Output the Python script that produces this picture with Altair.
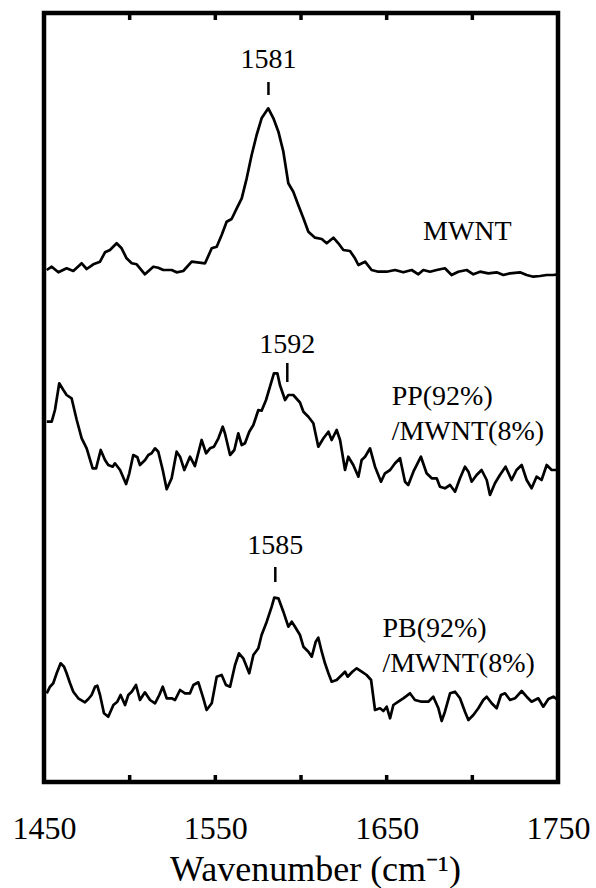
import altair as alt
import pandas as pd

# Raman spectra, offset vertically (intensity in arbitrary units)
mwnt_w = [1451.6, 1454.5, 1458.4, 1463.2, 1467.1, 1472.0, 1474.9, 1478.8, 1482.7, 1485.6,
          1488.5, 1492.4, 1495.3, 1498.2, 1501.2, 1504.1, 1508.9, 1513.8, 1516.7, 1519.6,
          1524.5, 1527.4, 1531.3, 1536.2, 1544.0, 1547.9, 1550.8, 1553.7, 1556.6, 1559.5,
          1562.5, 1565.4, 1568.3, 1571.2, 1574.1, 1577.0, 1580.9, 1583.9, 1586.8, 1589.7,
          1592.6, 1595.5, 1598.4, 1601.4, 1604.3, 1608.2, 1612.1, 1615.0, 1618.9, 1621.8,
          1624.7, 1628.6, 1631.5, 1633.5, 1637.4, 1641.2, 1645.1, 1650.0, 1654.9, 1659.7,
          1664.6, 1668.5, 1671.4, 1675.3, 1679.2, 1684.0, 1687.9, 1691.8, 1696.7, 1700.6,
          1704.5, 1709.3, 1714.2, 1718.1, 1722.0, 1727.8, 1731.7, 1735.6, 1739.5, 1743.4,
          1747.3, 1750.0]
mwnt_i = [512.0, 515.3, 509.7, 513.7, 511.0, 518.7, 513.0, 517.7, 520.3, 529.7,
          532.0, 538.7, 533.7, 523.7, 518.7, 517.7, 507.7, 515.3, 514.3, 512.0,
          512.0, 509.7, 511.0, 520.3, 518.7, 533.7, 535.3, 547.0, 560.3, 563.0,
          573.7, 583.7, 603.7, 627.0, 647.0, 663.7, 673.7, 663.7, 650.3, 630.3,
          598.7, 590.3, 577.0, 563.7, 550.3, 544.3, 543.0, 538.7, 544.3, 538.7,
          532.0, 531.0, 523.7, 517.0, 520.3, 512.0, 510.3, 510.3, 512.0, 509.7,
          512.0, 507.7, 512.0, 510.3, 512.0, 513.7, 507.0, 510.3, 512.0, 507.7,
          510.3, 508.7, 509.7, 507.0, 508.7, 509.7, 507.0, 505.3, 506.0, 507.0,
          507.0, 507.7]

pp_w = [1451.6, 1454.5, 1456.4, 1458.9, 1461.3, 1463.2, 1466.1, 1469.1, 1472.0, 1474.9,
        1478.4, 1480.4, 1483.1, 1485.6, 1487.5, 1490.1, 1491.4, 1494.4, 1497.9, 1499.8,
        1502.1, 1504.5, 1506.0, 1509.0, 1510.9, 1512.8, 1514.8, 1516.7, 1519.3, 1521.6,
        1524.5, 1527.4, 1529.4, 1531.9, 1535.2, 1538.1, 1542.0, 1544.6, 1546.9, 1549.2,
        1551.8, 1554.3, 1555.6, 1558.6, 1561.1, 1563.4, 1565.4, 1567.3, 1569.8, 1572.2,
        1575.1, 1577.0, 1579.6, 1581.9, 1584.2, 1586.2, 1587.7, 1590.7, 1592.6, 1595.5,
        1599.4, 1601.4, 1604.3, 1607.2, 1610.1, 1613.1, 1616.0, 1617.9, 1620.8, 1622.8,
        1625.7, 1627.6, 1630.5, 1633.5, 1635.4, 1637.4, 1640.3, 1643.2, 1646.7, 1649.0,
        1652.0, 1654.9, 1657.8, 1660.7, 1662.6, 1665.6, 1670.0, 1673.3, 1676.3, 1679.2,
        1681.1, 1684.0, 1687.0, 1689.9, 1692.8, 1695.7, 1697.7, 1699.6, 1702.5, 1705.4,
        1708.4, 1710.3, 1713.2, 1716.1, 1719.4, 1722.9, 1725.8, 1728.8, 1731.7, 1734.6,
        1737.5, 1740.4, 1743.4, 1746.3, 1749.2]
pp_i = [360.3, 360.3, 372.0, 398.7, 392.0, 387.0, 383.7, 362.0, 343.7, 333.7,
        313.7, 313.7, 332.0, 322.0, 317.0, 315.3, 318.7, 312.0, 298.0, 308.7,
        327.0, 324.7, 317.0, 322.0, 327.0, 328.7, 333.7, 330.3, 312.0, 292.7,
        303.7, 330.3, 325.3, 312.0, 325.3, 316.0, 342.0, 328.7, 333.7, 335.3,
        343.7, 355.3, 348.7, 327.0, 332.0, 348.7, 337.0, 338.7, 350.3, 357.0,
        372.0, 371.3, 382.0, 395.3, 408.7, 408.7, 397.0, 382.0, 387.0, 387.0,
        379.5, 370.3, 365.3, 358.7, 335.3, 343.7, 350.3, 342.0, 352.0, 342.0,
        312.0, 325.3, 317.0, 305.3, 322.0, 325.3, 333.7, 315.3, 300.3, 308.7,
        312.0, 318.7, 323.7, 300.3, 297.0, 310.3, 325.3, 308.7, 303.7, 303.7,
        295.3, 293.7, 297.0, 290.3, 303.7, 315.3, 310.3, 300.3, 307.0, 312.0,
        302.0, 287.0, 298.7, 307.0, 315.3, 302.0, 312.0, 317.0, 302.0, 293.7,
        305.3, 302.0, 317.0, 312.0, 312.0]

pb_w = [1451.6, 1453.5, 1455.4, 1457.4, 1459.7, 1461.7, 1463.2, 1465.2, 1467.1, 1470.0,
        1473.9, 1475.9, 1477.8, 1479.8, 1481.1, 1482.7, 1485.0, 1487.5, 1490.5, 1492.8,
        1494.7, 1497.3, 1499.2, 1501.2, 1503.7, 1506.0, 1508.9, 1511.9, 1514.8, 1517.3,
        1519.3, 1521.6, 1524.5, 1526.5, 1529.4, 1532.3, 1535.2, 1537.2, 1540.1, 1543.0,
        1544.9, 1547.9, 1550.8, 1553.7, 1556.2, 1558.6, 1561.5, 1563.8, 1566.3, 1569.8,
        1572.2, 1575.1, 1577.0, 1580.0, 1582.9, 1584.4, 1586.8, 1589.7, 1592.6, 1594.6,
        1596.5, 1599.4, 1601.4, 1604.3, 1606.3, 1608.6, 1610.1, 1612.1, 1614.0, 1616.0,
        1617.9, 1620.8, 1623.8, 1625.7, 1627.2, 1630.0, 1632.5, 1635.4, 1638.3, 1640.9,
        1643.2, 1646.1, 1648.1, 1650.0, 1652.0, 1653.9, 1656.8, 1659.7, 1663.6, 1666.5,
        1670.4, 1674.3, 1677.2, 1680.2, 1682.1, 1684.0, 1687.0, 1689.9, 1692.8, 1695.7,
        1697.7, 1700.6, 1703.5, 1706.4, 1708.4, 1711.3, 1714.2, 1716.7, 1719.1, 1722.0,
        1724.9, 1728.8, 1731.7, 1734.6, 1738.5, 1741.4, 1744.4, 1747.3, 1750.0]
pb_i = [88.7, 95.3, 98.7, 108.7, 118.7, 115.3, 108.7, 98.7, 90.3, 83.7,
        79.7, 83.0, 87.0, 95.3, 96.3, 87.0, 68.7, 65.3, 77.0, 80.3,
        87.0, 77.0, 87.0, 90.3, 97.0, 82.0, 89.7, 82.0, 78.7, 87.0,
        95.3, 83.7, 83.7, 82.0, 92.0, 88.7, 88.7, 97.0, 99.7, 83.7,
        72.0, 78.7, 105.3, 107.0, 97.0, 95.3, 117.0, 128.7, 123.7, 108.7,
        127.0, 133.7, 147.0, 160.3, 175.3, 184.3, 183.7, 170.3, 155.3, 160.3,
        155.3, 147.0, 135.3, 130.3, 125.3, 140.3, 144.3, 130.3, 118.7, 108.7,
        100.3, 102.0, 107.0, 110.3, 105.3, 110.3, 113.7, 110.3, 107.0, 102.0,
        72.0, 73.7, 71.0, 75.3, 63.7, 77.0, 80.3, 83.7, 88.7, 82.0,
        80.3, 80.3, 85.3, 73.7, 61.0, 70.3, 88.7, 90.3, 83.7, 70.3,
        62.0, 67.0, 73.7, 82.0, 85.3, 78.7, 73.7, 87.0, 88.7, 82.0,
        83.7, 91.0, 85.3, 80.3, 83.7, 75.3, 83.0, 85.3, 82.0]

# Peak positions and their marker geometry (label baseline, marker bottom/top)
peak_pos = [1581, 1592, 1585]
peak_text_y = [714, 429, 228]
peak_mark_lo = [687, 400, 200]
peak_mark_hi = [700, 419, 215]

# Sample names
name_text = ["MWNT", "PP(92%)", "/MWNT(8%)", "PB(92%)", "/MWNT(8%)"]
name_w = [1671.2, 1652.9, 1652.9, 1647.5, 1647.5]
name_y = [542, 377, 342, 145, 110]

minor_ticks = [1500, 1550, 1600, 1650, 1700]

FONT = "Liberation Serif"
W, H = 514, 769

rows = []
for name, ws, vs in [("MWNT", mwnt_w, mwnt_i), ("PP", pp_w, pp_i), ("PB", pb_w, pb_i)]:
    for k, (w, v) in enumerate(zip(ws, vs)):
        rows.append({"sample": name, "order": k, "wavenumber": w, "intensity": v})
spectra = pd.DataFrame(rows)

xscale = alt.Scale(domain=[1450, 1750], nice=False, zero=False)
yscale = alt.Scale(domain=[0, H], nice=False, zero=False)

xaxis = alt.Axis(
    values=[1450, 1550, 1650, 1750], format="d", title="Wavenumber (cm\u207b\u00b9)",
    grid=False, domain=False, ticks=False, tickSize=0,
    labelFont=FONT, labelFontSize=32, labelColor="black", labelFlush=False,
    labelOverlap=False, labelBaseline="alphabetic", labelPadding=56,
    titleFont=FONT, titleFontSize=36, titleFontWeight="normal", titleColor="black",
    titleBaseline="alphabetic", titleAlign="center", titleX=271, titleY=98,
)

lines = alt.Chart(spectra).mark_line(color="black", strokeWidth=2.7, strokeJoin="round").encode(
    x=alt.X("wavenumber:Q", scale=xscale, axis=xaxis),
    y=alt.Y("intensity:Q", scale=yscale, axis=None),
    detail="sample:N",
    order="order:Q",
)

peaks = pd.DataFrame({"pos": peak_pos, "ty": peak_text_y, "lo": peak_mark_lo, "hi": peak_mark_hi,
                      "label": [str(p) for p in peak_pos]})
peak_marks = alt.Chart(peaks).mark_rule(color="black", strokeWidth=2.5).encode(
    x="pos:Q", y=alt.Y("lo:Q", scale=yscale), y2="hi:Q")
peak_labels = alt.Chart(peaks).mark_text(font=FONT, fontSize=28, baseline="alphabetic",
                                         align="center", color="black").encode(
    x="pos:Q", y=alt.Y("ty:Q", scale=yscale), text="label:N")

names = pd.DataFrame({"w": name_w, "y": name_y, "t": name_text})
name_labels = alt.Chart(names).mark_text(font=FONT, fontSize=28, baseline="alphabetic",
                                         align="left", color="black").encode(
    x="w:Q", y=alt.Y("y:Q", scale=yscale), text="t:N")

ticks = pd.DataFrame({"t": minor_ticks})
top_ticks = alt.Chart(ticks).mark_rule(color="black", strokeWidth=3.5).encode(
    x="t:Q", y=alt.value(0), y2=alt.value(7))
bottom_ticks = alt.Chart(ticks).mark_rule(color="black", strokeWidth=3.5).encode(
    x="t:Q", y=alt.value(H), y2=alt.value(H - 7))

chart = alt.layer(lines, peak_marks, peak_labels, name_labels, top_ticks, bottom_ticks).properties(
    width=W, height=H,
    autosize=alt.AutoSizeParams(type="none"),
    padding={"left": 44, "top": 13, "right": 38, "bottom": 106},
    background="white",
).configure_view(stroke="black", strokeWidth=4.5)

chart.save("out.html", embed_options={"renderer": "svg", "actions": False})
